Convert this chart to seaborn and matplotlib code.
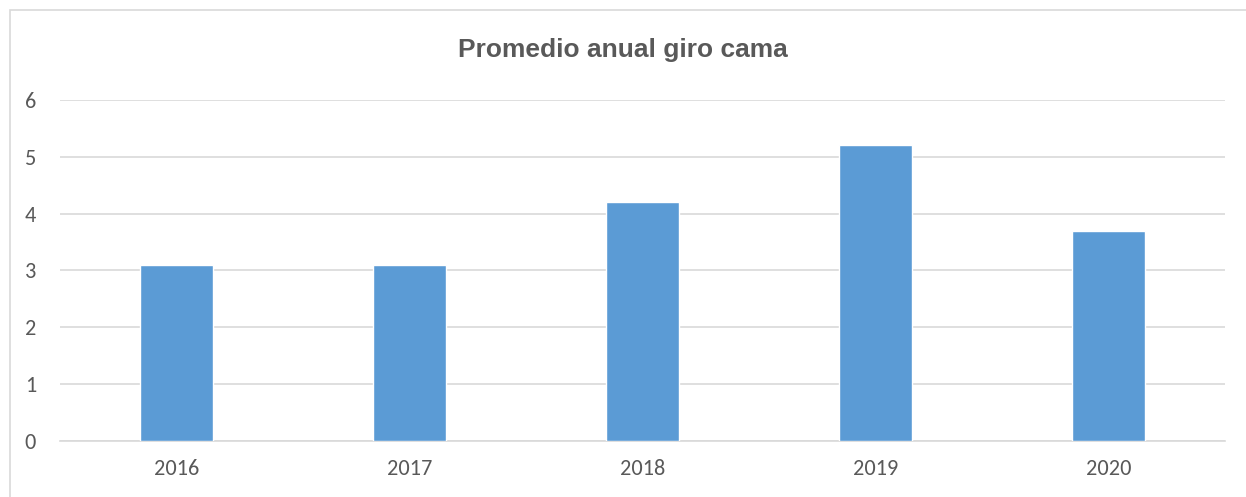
import matplotlib
matplotlib.use('Agg')
import matplotlib.pyplot as plt
import pandas
import seaborn as sns
from matplotlib.patches import Rectangle

years = ['2016', '2017', '2018', '2019', '2020']
giro_cama = [3.1, 3.1, 4.2, 5.2, 3.7]

sns.set_style('white')
plt.rcParams['font.family'] = ['Carlito', 'Liberation Sans', 'DejaVu Sans']

data = pandas.DataFrame({'year': years, 'value': giro_cama})

fig = plt.figure(figsize=(12.46, 4.97), dpi=100)
ax = fig.add_axes([0.048, 0.1127, 0.935, 0.6863])
sns.barplot(data=data, x='year', y='value', color='#5B9BD5', saturation=1,
            width=0.313, ax=ax, zorder=3)
ax.set_ylim(0, 6)
ax.set_yticks(range(0, 7))
ax.grid(axis='y', color='#D9D9D9', linewidth=1.2, zorder=0)
for side in ['left', 'right', 'top']:
    ax.spines[side].set_visible(False)
ax.spines['bottom'].set_color('#D9D9D9')
ax.spines['bottom'].set_linewidth(1.2)
ax.tick_params(length=0, labelsize=16, colors='#595959')
ax.tick_params(axis='x', pad=13)
ax.tick_params(axis='y', pad=17)
ax.set_xlabel('')
ax.set_ylabel('')

fig.text(0.5, 0.9, 'Promedio anual giro cama', ha='center', va='center',
         fontsize=19, fontweight='bold', color='#595959',
         family=['Liberation Sans Narrow', 'Liberation Sans', 'DejaVu Sans'])

# outer chart border
fig.patches.append(Rectangle((10 / 1246, -0.01), 1.0, 1 - 10 / 497 + 0.01,
                             transform=fig.transFigure, fill=False,
                             edgecolor='#D9D9D9', linewidth=1.2))

fig.savefig('out.png', dpi=100)
